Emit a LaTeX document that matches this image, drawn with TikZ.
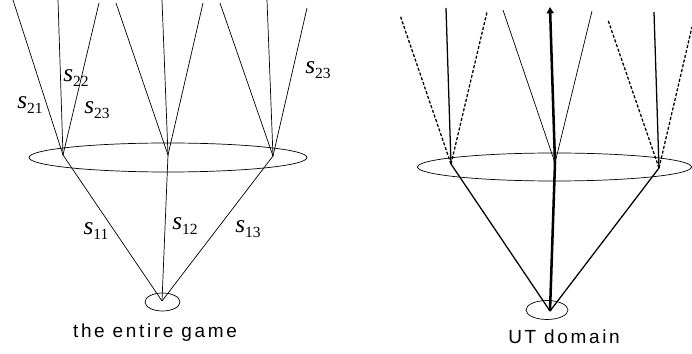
\documentclass[tikz,border=0pt]{standalone}
\usepackage{fontspec}
\newfontfamily\captionfont[LetterSpace=14]{Liberation Sans}
\newfontfamily\stratfont{Liberation Serif}
\usetikzlibrary{arrows.meta}

% strategy label s_{ij}
\newcommand{\strat}[1]{{\itshape s}\raisebox{-4pt}{\fontsize{11}{12}\selectfont #1}}

\begin{document}
\begin{tikzpicture}[x=0.025cm, y=-0.025cm,
    thinline/.style={line width=0.5pt},
    boldline/.style={line width=0.9pt},
    dashline/.style={line width=0.9pt, dash pattern=on 2.2pt off 1.3pt},
    pathline/.style={line width=1.8pt},
    slabel/.style={inner sep=0pt, font=\stratfont\fontsize{18}{20}\selectfont},
    caption/.style={inner sep=0pt, font=\captionfont\fontsize{13.5}{15}\selectfont}]
    \useasboundingbox (0,0) rectangle (692,354);

    % the entire game
    \coordinate (r) at (162,301);
    \coordinate (a) at (63,155);
    \coordinate (b) at (168,155);
    \coordinate (c) at (273,156);
    \draw[thinline] (168,157.5) ellipse [x radius=139, y radius=14.5];
    \draw[thinline] (162.5,302) ellipse [x radius=17.5, y radius=9];

    % first moves
    \draw[thinline] (r) -- (a);
    \draw[thinline] (r) -- (b);
    \draw[thinline] (r) -- (c);

    % second moves
    \coordinate (a1) at (13,0);   \coordinate (a2) at (58,0);   \coordinate (a3) at (99,3);
    \coordinate (b1) at (116,3);  \coordinate (b2) at (162,0);  \coordinate (b3) at (203,3);
    \coordinate (c1) at (220,3);  \coordinate (c2) at (267,0);  \coordinate (c3) at (307,8);
    \foreach \t in {a1,a2,a3} \draw[thinline] (a) -- (\t);
    \foreach \t in {b1,b2,b3} \draw[thinline] (b) -- (\t);
    \foreach \t in {c1,c2,c3} \draw[thinline] (c) -- (\t);

    % strategy labels
    \node[slabel] (s21) at (30,105) {\strat{21}};
    \node[slabel] (s22) at (76,78) {\strat{22}};
    \node[slabel] (s23) at (97,110) {\strat{23}};
    \node[slabel] (s23r) at (318,70) {\strat{23}};
    \node[slabel] (s11) at (96,231) {\strat{11}};
    \node[slabel] (s12) at (185,226) {\strat{12}};
    \node[slabel] (s13) at (248,229) {\strat{13}};
    \node[caption] (game) at (155,333) {the entire game};

    % UT domain
    \coordinate (ur) at (550,311);
    \coordinate (ua) at (451,164);
    \coordinate (ub) at (555,163);
    \coordinate (uc) at (659,168);
    \draw[thinline] (554.5,167) ellipse [x radius=137, y radius=14];
    \draw[thinline] (547,310) ellipse [x radius=21, y radius=9.5];

    % first moves
    \draw[boldline] (ur) -- (ua);
    \draw[pathline] (ur) -- (ub);
    \draw[boldline] (ur) -- (uc);

    % second moves
    \coordinate (ua1) at (400,15);  \coordinate (ua2) at (446,8);  \coordinate (ua3) at (487,12);
    \coordinate (ub1) at (503,10);  \coordinate (ub2) at (550,7);  \coordinate (ub3) at (592,11);
    \coordinate (uc1) at (608,20);  \coordinate (uc2) at (654,12); \coordinate (uc3) at (692,27);
    \draw[dashline] (ua) -- (ua1);
    \draw[boldline] (ua) -- (ua2);
    \draw[dashline] (ua) -- (ua3);
    \draw[thinline] (ub) -- (ub1);
    \draw[pathline, -{Triangle[length=4.5pt, width=5pt]}] (ub) -- (ub2);
    \draw[thinline] (ub) -- (ub3);
    \draw[dashline] (uc) -- (uc1);
    \draw[boldline] (uc) -- (uc2);
    \draw[dashline] (uc) -- (uc3);

    \node[caption] (utd) at (564,337) {UT domain};
\end{tikzpicture}
\end{document}
